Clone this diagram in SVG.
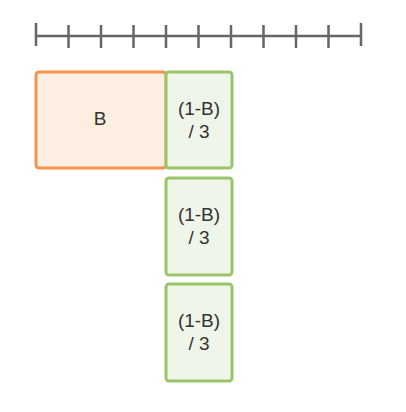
<svg xmlns="http://www.w3.org/2000/svg" width="406" height="412" viewBox="0 0 406 412">
<style>
.ruler{stroke:#666;stroke-width:2.5;fill:none}
.orange{fill:#fdeee2;stroke:#f0944e;stroke-width:3}
.green{fill:#eff5e8;stroke:#9bc46a;stroke-width:3}
text{font-family:"Liberation Sans",Arial,sans-serif;font-size:19px;fill:#333;text-anchor:middle}
</style>
<rect width="406" height="412" fill="#fff"/>
<g id="ruler">
<line class="ruler" x1="36" y1="36" x2="361" y2="36"/>
<path class="ruler" d="M36 23V46M68.5 25V48M101 25V48M133.5 25V48M166 25V48M198.5 25V48M231 25V48M263.5 25V48M296 25V48M328.5 25V48M361 23V46"/>
</g>
<g id="boxB">
<rect class="orange" x="36" y="72" width="130" height="96" rx="3"/>
<text x="100" y="125">B</text>
</g>
<g id="box1">
<rect class="green" x="166" y="72" width="66" height="96" rx="3"/>
<text x="199" y="115">(1-B)</text>
<text x="199" y="138">/ 3</text>
</g>
<g id="box2">
<rect class="green" x="166" y="178" width="66" height="97" rx="3"/>
<text x="199" y="221">(1-B)</text>
<text x="199" y="244">/ 3</text>
</g>
<g id="box3">
<rect class="green" x="166" y="284" width="66" height="97" rx="3"/>
<text x="199" y="327">(1-B)</text>
<text x="199" y="350">/ 3</text>
</g>
<g id="connectors"></g>
</svg>
